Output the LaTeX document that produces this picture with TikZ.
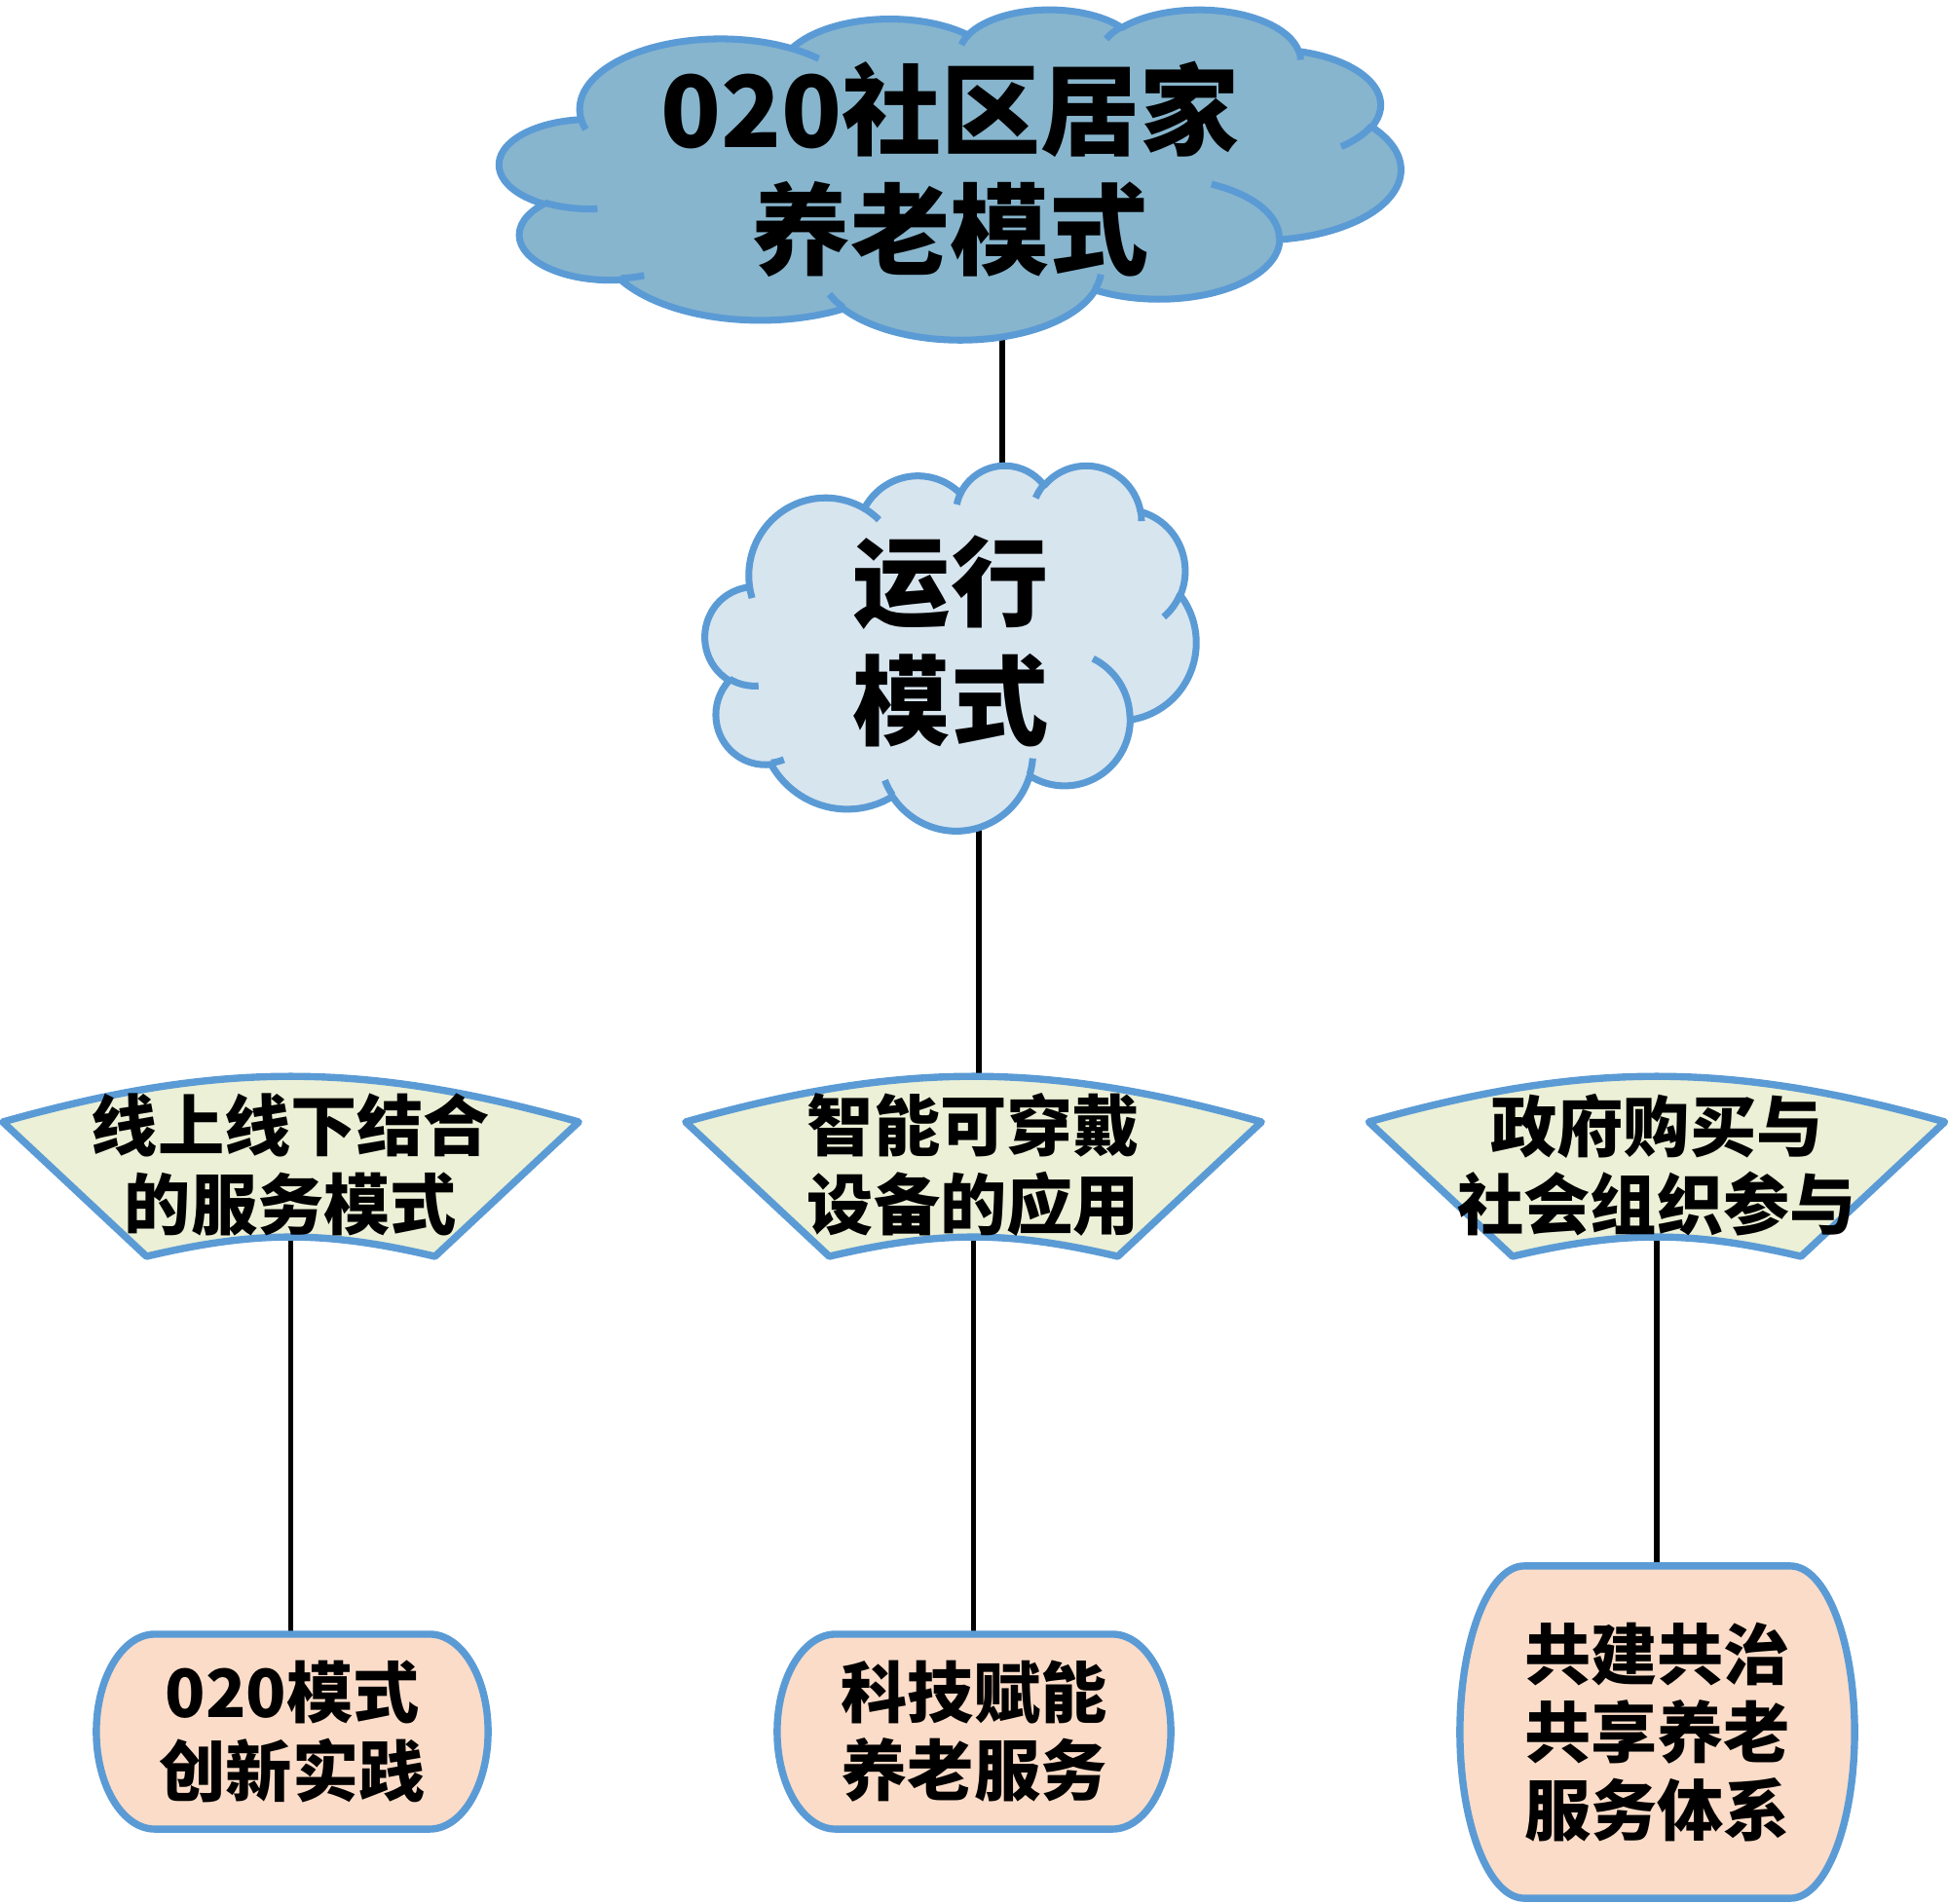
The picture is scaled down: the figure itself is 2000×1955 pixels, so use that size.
\documentclass[tikz,border=0pt]{standalone}
\usepackage{fontspec}
\setmainfont{Noto Sans CJK SC}

\definecolor{shapeblue}{RGB}{91,155,213}
\definecolor{topfill}{RGB}{135,181,205}
\definecolor{midfill}{RGB}{215,229,239}
\definecolor{fanfill}{RGB}{235,240,214}
\definecolor{boxfill}{RGB}{251,220,200}

\pgfdeclarelayer{back}
\pgfdeclarelayer{shapes}
\pgfsetlayers{back,shapes,main}

% one puff of the cloud: radii, start angle and sweep as seen on the ellipse
\newcommand{\oarc}[4]{arc[x radius=#1, y radius=#2,
  start angle={atan2(#1*sin(#3),#2*cos(#3))},
  delta angle={mod(atan2(#1*sin(#3+#4),#2*cos(#3+#4))-atan2(#1*sin(#3),#2*cos(#3))+720,360)}]}

% cloud in the box x0, y0, width, height
\newcommand{\cloudshape}[5]{%
  \begin{scope}[shift={(#1,#2)}, xscale=#3/432, yscale=#4/432]
    \filldraw[cloud line, fill=#5] (39,143.7)
      \oarc{67.53}{91.90}{-190.4875}{123.7805}
      \oarc{53.33}{72.67}{-144.1024}{89.9452}
      \oarc{43.65}{59.45}{-145.8079}{99.7230}
      \oarc{48.57}{65.95}{-130.9861}{117.2417}
      \oarc{53.33}{72.73}{-78.7089}{109.0269}
      \oarc{67.75}{92.20}{-46.2673}{130.2690}
      \oarc{57.85}{78.67}{0.6250}{114.0333}
      \oarc{67.52}{92.15}{22.4516}{115.1726}
      \oarc{77.20}{105.43}{66.2426}{75.7110}
      \oarc{43.60}{59.18}{-274.9421}{146.7356}
      \oarc{43.45}{59.45}{-246.8285}{152.5189} -- cycle;
    % inner curls
    \draw[cloud line]
      (46.93,261.77) \oarc{43.45}{59.45}{86.742}{26.4295}
      (69.28,348.99) \oarc{43.60}{59.18}{73.6105}{11.4475}
      (164.78,390.90) \oarc{67.52}{92.15}{137.6242}{14.0811}
      (288.27,347.51) \oarc{67.52}{92.15}{6.4533}{15.9984}
      (341.29,229.54) \oarc{57.85}{78.67}{-70.2924}{70.9174}
      (417.98,153.54) \oarc{53.33}{72.73}{30.3180}{27.7515}
      (383.24,54.26) \oarc{48.57}{65.95}{-13.7443}{14.8589}
      (290.78,39.52) \oarc{48.57}{65.95}{-149.1815}{18.1954}
      (221.41,47.20) \oarc{43.65}{59.45}{-163.4943}{17.6864}
      (140.00,51.92) \oarc{67.53}{91.90}{-66.7070}{12.3194}
      (41.27,157.89) \oarc{67.53}{91.90}{157.6544}{11.8582};
  \end{scope}}

% fan round a text node
\newcommand{\fanshape}[1]{%
  \draw[shape line, fill=fanfill]
    ([xshift=-2.955cm,yshift=.44cm]#1.center) to[bend left=15.7]
    ([xshift=2.955cm,yshift=.44cm]#1.center) --
    ([xshift=1.48cm,yshift=-.94cm]#1.center) to[bend right=13.3]
    ([xshift=-1.48cm,yshift=-.94cm]#1.center) -- cycle;}

% box with round sides round a node
\newcommand{\capsule}[3]{%
  \draw[shape line, fill=boxfill]
    ([xshift=#2]#1.north west) -- ([xshift=-#2]#1.north east)
    arc[start angle=90, end angle=0, x radius=#2, y radius=#3]
    arc[start angle=0, end angle=-90, x radius=#2, y radius=#3]
    -- ([xshift=#2]#1.south west)
    arc[start angle=270, end angle=180, x radius=#2, y radius=#3]
    arc[start angle=180, end angle=90, x radius=#2, y radius=#3] -- cycle;}

\begin{document}
\begin{tikzpicture}[x=0.01cm, y=-0.01cm,
    link/.style={line width=1.6pt},
    cloud line/.style={draw=shapeblue, line width=2pt, line join=round},
    shape line/.style={draw=shapeblue, line width=2.1pt, line join=round},
    txt/.style={align=center, inner sep=0pt, outer sep=0pt},
    big text/.style={txt, font=\bfseries\fontsize{29pt}{35pt}\selectfont},
    mid text/.style={txt, font=\bfseries\fontsize{28.5pt}{34.6pt}\selectfont},
    small text/.style={txt, font=\bfseries\fontsize{19.4pt}{22.8pt}\selectfont}]
  \useasboundingbox (0,0) rectangle (2000,1955);

  % Texts
  \node[big text, minimum width=9.25cm, minimum height=3.48cm] (top) at (975.5,174) {020社区居家\\养老模式};
  \node[mid text, minimum width=5.04cm, minimum height=3.87cm] (mid) at (976,658.5) {运行\\模式};

  \node[small text] (fanA) at (298.5,1196) {线上线下结合\\的服务模式};
  \node[small text] (fanB) at (999.5,1196) {智能可穿戴\\设备的应用};
  \node[small text] (fanC) at (1701,1196) {政府购买与\\社会组织参与};

  \node[small text, minimum width=4.02cm, minimum height=2cm] (boxA) at (300,1778) {020模式\\创新实践};
  \node[small text, minimum width=4.04cm, minimum height=2cm] (boxB) at (1000,1778) {科技赋能\\养老服务};
  \node[small text, minimum width=4.05cm, minimum height=3.41cm] (boxC) at (1701.5,1778.5) {共建共治\\共享养老\\服务体系};

  % Connectors
  \begin{pgfonlayer}{back}
    \fill[white] (0,0) rectangle (2000,1955);
    \draw[link] ([xshift=.535cm]top.south) -- ([xshift=.53cm,yshift=-.16cm]mid.north);
    \draw[link] ([xshift=.29cm]mid.south) -- ([xshift=.055cm,yshift=.89cm]fanB.center);
    \foreach \f/\b in {fanA/boxA, fanB/boxB, fanC/boxC}
      \draw[link] ([yshift=-.76cm]\f.center) -- ([yshift=-.1cm]\f.center |- \b.north);
  \end{pgfonlayer}

  % Shapes
  \begin{pgfonlayer}{shapes}
    \cloudshape{513}{9}{925}{339}{topfill}
    \cloudshape{724}{477}{504}{375}{midfill}
    \foreach \f in {fanA, fanB, fanC} {\fanshape{\f}}
    \capsule{boxA}{.6cm}{1cm}
    \capsule{boxB}{.6cm}{1cm}
    \capsule{boxC}{.66cm}{1.705cm}
  \end{pgfonlayer}
\end{tikzpicture}
\end{document}
